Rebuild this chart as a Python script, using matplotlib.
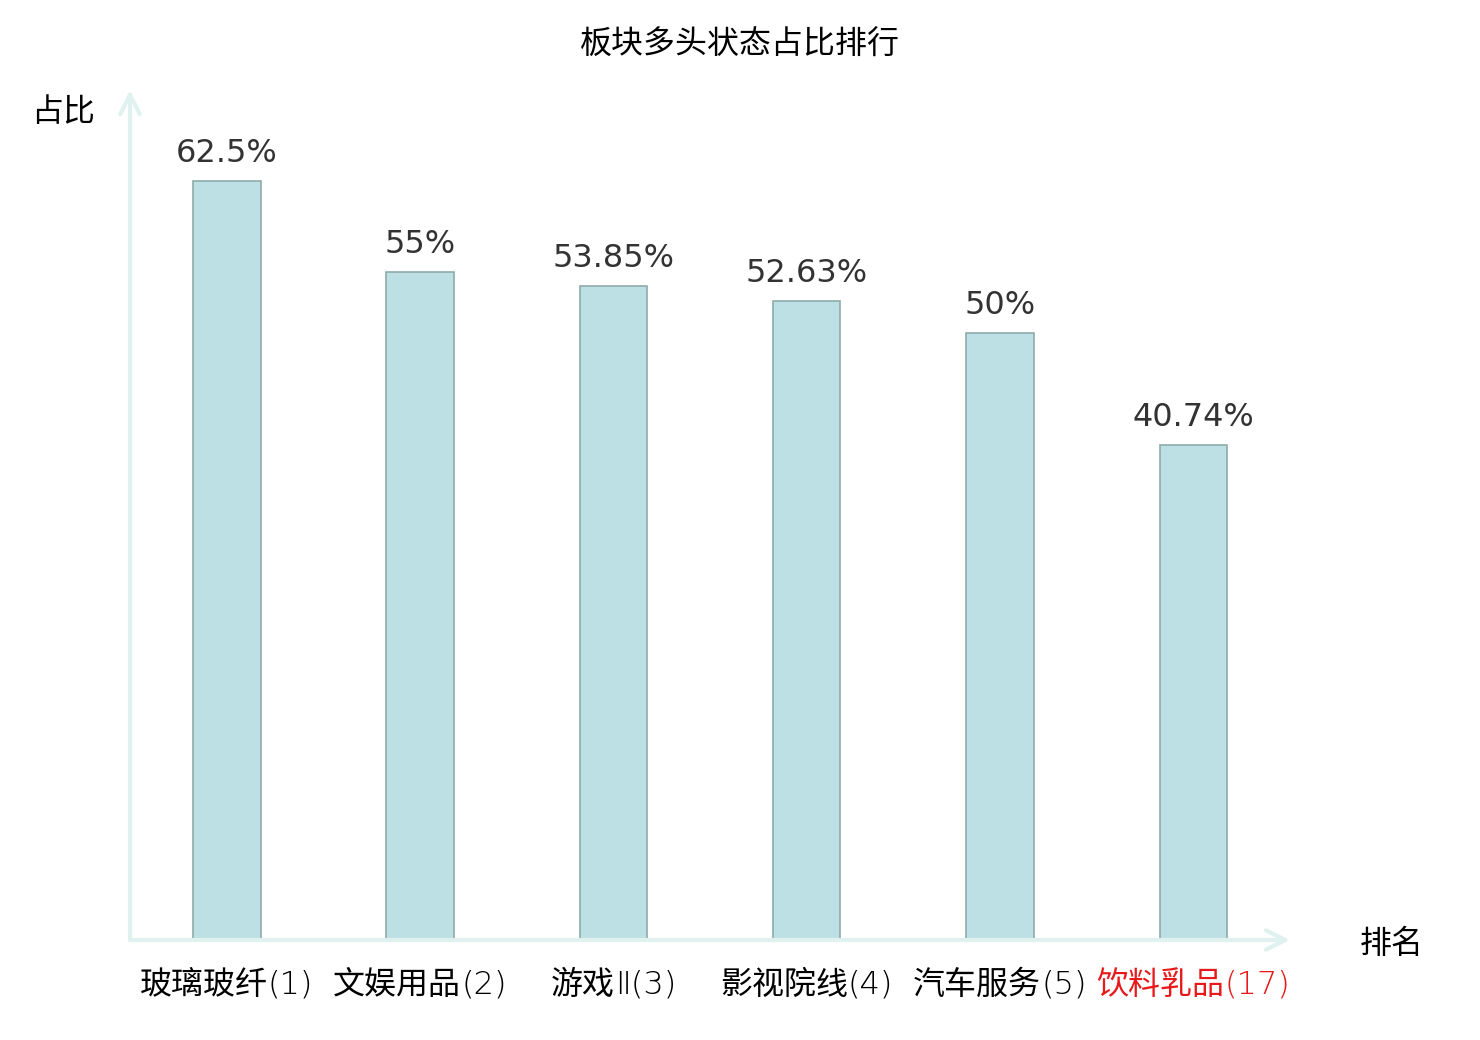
import matplotlib.pyplot as plt
import numpy as np

plt.rcParams['font.family'] = ['Noto Sans CJK SC', 'DejaVu Sans']

# data
sectors = ['玻璃玻纤', '文娱用品', '游戏Ⅱ', '影视院线', '汽车服务', '饮料乳品']
ranks = [1, 2, 3, 4, 5, 17]
ratios = [62.5, 55, 53.85, 52.63, 50, 40.74]
value_labels = ['62.5%', '55%', '53.85%', '52.63%', '50%', '40.74%']

axis_color = '#dff2f0'
bar_color = '#bce0e3'
edge_color = '#8fabab'

fig = plt.figure(figsize=(14.8, 10.4), dpi=100)
ax = fig.add_axes([130 / 1480, 100 / 1040, 1160 / 1480, 850 / 1040])

x = np.arange(len(sectors))
bars = ax.bar(x, ratios, width=0.35, color=bar_color, edgecolor=edge_color, linewidth=1.2)

for xi, v, lab in zip(x, ratios, value_labels):
    ax.text(xi, v + 1.0, lab, ha='center', va='bottom', fontsize=23,
            color='#333333', family='DejaVu Sans')

ax.set_xlim(-0.5, 5.5)
ax.set_ylim(0, 70)
for s in ax.spines.values():
    s.set_visible(False)
ax.set_xticks([])
ax.set_yticks([])
ax.patch.set_alpha(0)

# axes with arrows
ax.annotate('', xy=(5.5, 0), xytext=(-0.5, 0), xycoords='data',
            arrowprops=dict(arrowstyle='->', color=axis_color, lw=3, mutation_scale=35,
                            shrinkA=0, shrinkB=0), annotation_clip=False)
ax.annotate('', xy=(-0.5, 70), xytext=(-0.5, 0), xycoords='data',
            arrowprops=dict(arrowstyle='->', color=axis_color, lw=3, mutation_scale=35,
                            shrinkA=0, shrinkB=0), annotation_clip=False)

# category labels: CJK part in regular CJK font, the rest in a lighter latin font
renderer = fig.canvas.get_renderer()
for xi, name, r in zip(x, sectors, ranks):
    c = '#e8191a' if r == ranks[-1] else 'black'
    cjk = name.rstrip('Ⅱ')
    rest = name[len(cjk):] + f'({r})'
    t1 = ax.text(xi, -3.7, cjk, ha='left', va='center', fontsize=23, color=c,
                 family='Noto Sans CJK SC')
    t2 = ax.text(xi, -3.7, rest, ha='left', va='center', fontsize=23, color=c,
                 family='DejaVu Sans', fontweight='light')
    w1 = t1.get_window_extent(renderer).width
    w2 = t2.get_window_extent(renderer).width
    px = ax.transData.transform((xi, 0))[0]
    start = px - (w1 + w2) / 2
    x1 = ax.transData.inverted().transform((start, 0))[0]
    x2 = ax.transData.inverted().transform((start + w1, 0))[0]
    t1.set_x(x1)
    t2.set_x(x2)

fig.text(740 / 1480, 1 - 45 / 1040, '板块多头状态占比排行', ha='center', va='center', fontsize=23)
fig.text(63 / 1480, 1 - 112 / 1040, '占比', ha='center', va='center', fontsize=23)
fig.text(1392 / 1480, 1 - 944 / 1040, '排名', ha='center', va='center', fontsize=23)

fig.savefig('out.png', dpi=100)
